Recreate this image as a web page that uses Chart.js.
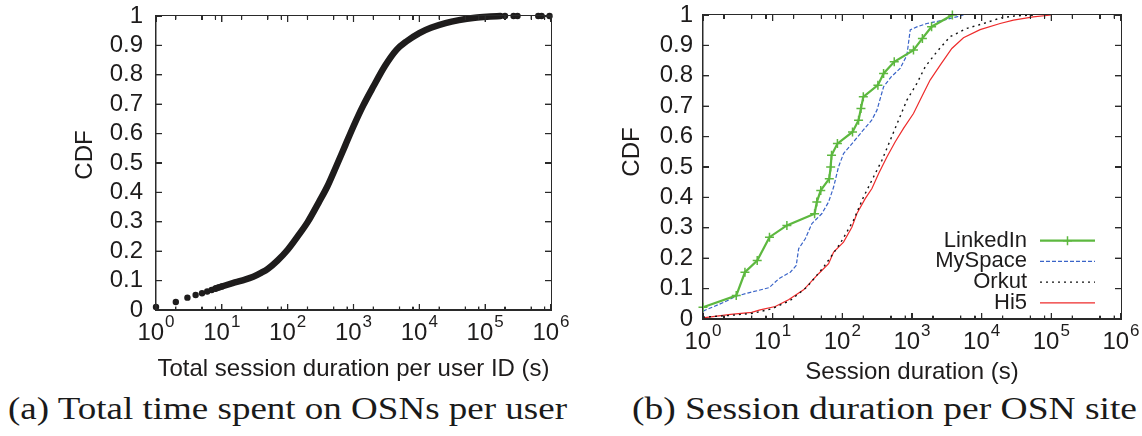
<!DOCTYPE html>
<html>
<head>
<meta charset="utf-8">
<script src="https://cdn.jsdelivr.net/npm/chart.js@4/dist/chart.umd.min.js"></script>
<style>
  html, body { margin: 0; padding: 0; background: #fff; }
  body { width: 1142px; height: 436px; position: relative; overflow: hidden; }
  canvas { position: absolute; top: 0; }
  #cA { left: 0; }
  #cB { left: 580px; }
  .overlay { position: absolute; top: 0; pointer-events: none; }
  .overlay div { position: absolute; background: #2a2a2a; }
  .overlay div.box { background: transparent; border: 1.5px solid #2a2a2a; box-sizing: border-box; }
  .cap { position: absolute; top: 392px; font-family: "Liberation Serif", "Times New Roman", serif; font-size: 32px; line-height: 32px; color: #1a1a1a; white-space: nowrap; transform-origin: 0 0; }
</style>
</head>
<body>
<canvas id="cA" width="571" height="390"></canvas>
<canvas id="cB" width="562" height="390"></canvas>
<div class="overlay" id="oA" style="left:0;width:571px;height:390px"></div>
<div class="overlay" id="oB" style="left:580px;width:562px;height:390px"></div>
<div class="cap" id="capA" data-left="8" data-width="559">(a) Total time spent on OSNs per user</div>
<div class="cap" id="capB" data-left="632" data-width="505">(b) Session duration per OSN site</div>
<script>
// ---------- data ----------
const decadeExponents = [0, 1, 2, 3, 4, 5, 6];
const minorMultipliers = [2, 5, 8];
const yTickValues = [0, 0.1, 0.2, 0.3, 0.4, 0.5, 0.6, 0.7, 0.8, 0.9, 1];

// (a) total session duration per user ID
const userDotX = [1, 2, 3, 4, 5, 6, 7, 8, 9, 10, 200000, 270000, 310000, 640000, 720000, 950000];
const userDotY = [0.010, 0.027, 0.042, 0.051, 0.057, 0.063, 0.068, 0.073, 0.077, 0.080, 1, 1, 1, 1, 1, 1];
const userCurveX = [8, 10, 15, 20, 30, 40, 50, 70, 100, 150, 200, 300, 400, 550, 750, 1000, 1400, 2000, 3000, 4500, 6500, 10000, 15000, 25000, 40000, 70000, 120000, 170000];
const userCurveY = [0.073, 0.080, 0.092, 0.100, 0.113, 0.127, 0.140, 0.168, 0.205, 0.258, 0.298, 0.368, 0.420, 0.490, 0.560, 0.625, 0.695, 0.760, 0.830, 0.885, 0.915, 0.942, 0.960, 0.976, 0.986, 0.994, 0.998, 1.0];

// (b) session duration per OSN site
const linkedinX = [1, 3, 4, 6, 9, 16, 40, 43, 49, 65, 68, 70, 85, 140, 171, 185, 200, 324, 391, 556, 1050, 1410, 1910, 3800];
const linkedinY = [0.0385, 0.0769, 0.1538, 0.1923, 0.2692, 0.3077, 0.3462, 0.3846, 0.4231, 0.4615, 0.5, 0.5385, 0.5769, 0.6154, 0.6538, 0.6923, 0.7308, 0.7692, 0.8077, 0.8462, 0.8846, 0.9231, 0.9615, 1.0];
const myspaceX = [1, 2, 3, 4.5, 8.9, 12.2, 17.9, 21.8, 23.6, 29.4, 36.6, 51, 63.5, 75, 88, 104, 145, 191, 264, 314, 391, 505, 675, 845, 943, 1175, 1630, 2830, 4370, 5480];
const myspaceY = [0.026, 0.055, 0.075, 0.086, 0.103, 0.132, 0.154, 0.176, 0.231, 0.264, 0.314, 0.347, 0.385, 0.434, 0.5, 0.544, 0.583, 0.616, 0.654, 0.687, 0.764, 0.797, 0.824, 0.868, 0.951, 0.961, 0.972, 0.983, 0.994, 1.0];
const orkutX = [1, 2.5, 5.3, 9.8, 17.9, 31, 54, 93, 145, 201, 280, 370, 487, 641, 845, 1175, 1550, 2275, 3530, 6150, 10600, 18400, 30000, 60000];
const orkutY = [0.006, 0.012, 0.019, 0.034, 0.061, 0.105, 0.171, 0.248, 0.325, 0.401, 0.467, 0.522, 0.588, 0.654, 0.72, 0.775, 0.83, 0.879, 0.929, 0.956, 0.972, 0.99, 0.997, 1.0];
const hi5X = [1, 2.5, 5, 6.6, 10.9, 16.9, 27.8, 45.6, 63.5, 75, 104, 137, 162, 213, 266, 331, 436, 575, 755, 1050, 1380, 1820, 2540, 3730, 5480, 9500, 18400, 28600, 55000, 100000];
const hi5Y = [0.004, 0.015, 0.022, 0.030, 0.041, 0.063, 0.096, 0.149, 0.182, 0.22, 0.253, 0.302, 0.347, 0.396, 0.429, 0.478, 0.533, 0.583, 0.627, 0.676, 0.731, 0.786, 0.835, 0.89, 0.925, 0.952, 0.972, 0.983, 0.994, 1.0];

const seriesNames = ['LinkedIn', 'MySpace', 'Orkut', 'Hi5'];

// ---------- helpers ----------
const SANS = '"Liberation Sans", Arial, Helvetica, sans-serif';
const INK = '#1e1c1c';
const FRAME = '#2a2a2a';
const pts = (xs, ys) => xs.map((x, i) => ({ x, y: ys[i] }));
Chart.defaults.font.family = SANS;
Chart.defaults.color = INK;

// tick positions come from the chart's own scales
function tickMarks(chart) {
  const a = chart.chartArea, sx = chart.scales.x, sy = chart.scales.y;
  const marks = [];
  for (const v of yTickValues) {
    const py = sy.getPixelForValue(v);
    marks.push({ x: a.left, y: py - 0.6, w: 6, h: 1.2 });
    marks.push({ x: a.right - 6, y: py - 0.6, w: 6, h: 1.2 });
  }
  decadeExponents.forEach((e, k) => {
    const base = Math.pow(10, e);
    const px = sx.getPixelForValue(base);
    marks.push({ x: px - 0.6, y: a.bottom - 6, w: 1.2, h: 6 });
    marks.push({ x: px - 0.6, y: a.top, w: 1.2, h: 6 });
    if (k < decadeExponents.length - 1) {
      for (const m of minorMultipliers) {
        const qx = sx.getPixelForValue(base * m);
        marks.push({ x: qx - 0.6, y: a.bottom - 3.5, w: 1.2, h: 3.5 });
        marks.push({ x: qx - 0.6, y: a.top, w: 1.2, h: 3.5 });
      }
    }
  });
  return marks;
}

function makeGnuPlugin(cfg) {
  function drawTicks(chart) {
    const ctx = chart.ctx;
    ctx.save();
    ctx.fillStyle = FRAME;
    for (const m of tickMarks(chart)) ctx.fillRect(m.x, m.y, m.w, m.h);
    ctx.restore();
  }
  function drawLabels(chart) {
    const ctx = chart.ctx, a = chart.chartArea, sx = chart.scales.x;
    ctx.save();
    ctx.fillStyle = INK;
    ctx.textBaseline = 'middle';
    ctx.textAlign = 'left';
    const big = '24px ' + SANS, small = '17px ' + SANS;
    for (const e of decadeExponents) {
      const px = sx.getPixelForValue(Math.pow(10, e));
      ctx.font = big; const w1 = ctx.measureText('10').width;
      ctx.font = small; const w2 = ctx.measureText(String(e)).width;
      const start = px - (w1 + w2 + 1) / 2;
      ctx.font = big; ctx.fillText('10', start, a.bottom + 23);
      ctx.font = small; ctx.fillText(String(e), start + w1 + 1, a.bottom + 12);
    }
    ctx.font = '24px ' + SANS;
    ctx.textAlign = 'center';
    ctx.translate(cfg.yTitleX, cfg.yTitleY);
    ctx.rotate(-Math.PI / 2);
    ctx.fillText('CDF', 0, 0);
    ctx.restore();
  }
  function drawLegend(chart) {
    const lg = cfg.legend;
    if (!lg) return;
    const ctx = chart.ctx;
    ctx.save();
    ctx.font = '22px ' + SANS;
    ctx.textBaseline = 'middle';
    ctx.textAlign = 'right';
    chart.data.datasets.forEach((ds, i) => {
      const yy = lg.y0 + i * lg.step;
      ctx.fillStyle = INK;
      ctx.fillText(ds.label, lg.textRight, yy);
      ctx.strokeStyle = ds.borderColor;
      ctx.lineWidth = ds.borderWidth;
      ctx.setLineDash(ds.borderDash || []);
      ctx.beginPath();
      ctx.moveTo(lg.lineX0, yy); ctx.lineTo(lg.lineX1, yy);
      ctx.stroke();
      ctx.setLineDash([]);
      if (ds.pointStyle === 'cross' && ds.pointRadius > 0) {
        const cx = (lg.lineX0 + lg.lineX1) / 2, r = ds.pointRadius;
        ctx.lineWidth = ds.pointBorderWidth;
        ctx.beginPath();
        ctx.moveTo(cx - r, yy); ctx.lineTo(cx + r, yy);
        ctx.moveTo(cx, yy - r); ctx.lineTo(cx, yy + r);
        ctx.stroke();
      }
    });
    ctx.restore();
  }
  return {
    id: 'gnu_' + cfg.name,
    afterDraw(chart) {
      drawLegend(chart);
      drawLabels(chart);
      drawTicks(chart);
    }
  };
}

// HTML overlay frame + inward ticks, positioned from the chart's computed area/scales
function buildOverlay(chart, overlayId) {
  const host = document.getElementById(overlayId);
  host.innerHTML = '';
  const a = chart.chartArea;
  const box = document.createElement('div');
  box.className = 'box';
  Object.assign(box.style, { left: (a.left - 0.75) + 'px', top: (a.top - 0.75) + 'px', width: (a.right - a.left + 1.5) + 'px', height: (a.bottom - a.top + 1.5) + 'px' });
  host.appendChild(box);
  for (const m of tickMarks(chart)) {
    const d = document.createElement('div');
    Object.assign(d.style, { left: m.x + 'px', top: m.y + 'px', width: m.w + 'px', height: m.h + 'px' });
    host.appendChild(d);
  }
}

function makeOptions(cfg) {
  const edge = { display: true, color: FRAME, width: 1.5 };
  return {
    responsive: false,
    animation: false,
    events: [],
    layout: { padding: { left: 0, top: cfg.top, right: cfg.right, bottom: 0 } },
    plugins: { legend: { display: false }, tooltip: { enabled: false } },
    scales: {
      x: {
        type: 'logarithmic', min: 1, max: 1000000, position: 'bottom',
        grid: { display: false, drawTicks: false },
        border: edge,
        ticks: { display: false },
        title: { display: true, text: cfg.xTitle, font: { size: 24 }, color: INK, padding: { top: 0, bottom: cfg.xTitlePad } },
        afterFit: (s) => { s.height = cfg.xHeight; s.paddingLeft = 0; s.paddingRight = 0; }
      },
      y: {
        type: 'linear', min: 0, max: 1, position: 'left',
        grid: { display: false, drawTicks: false },
        border: edge,
        afterBuildTicks: (s) => { s.ticks = yTickValues.map(v => ({ value: v })); },
        ticks: { autoSkip: false, padding: cfg.yPad, font: { size: 24 }, color: INK, callback: (v) => String(Math.round(v * 10) / 10) },
        afterFit: (s) => { s.width = cfg.yWidth; s.paddingTop = 0; s.paddingBottom = 0; }
      }
    }
  };
}

// ---------- chart (a) ----------
const cfgA = { name: 'a', top: 16, right: 20, xHeight: 80, yWidth: 156, yPad: 13, xTitle: 'Total session duration per user ID (s)',
  xTitlePad: 6.6, yTitleX: 85, yTitleY: 155 };
const chartA = new Chart(document.getElementById('cA'), {
  type: 'scatter',
  data: {
    datasets: [
      { label: 'users curve', data: pts(userCurveX, userCurveY), showLine: true, borderColor: INK, borderWidth: 6.5,
        borderCapStyle: 'round', borderJoinStyle: 'round', cubicInterpolationMode: 'monotone', pointRadius: 0, clip: false },
      { label: 'users', data: pts(userDotX, userDotY), showLine: false, pointRadius: 3.2, pointBackgroundColor: INK,
        pointBorderWidth: 0, clip: false }
    ]
  },
  options: makeOptions(cfgA),
  plugins: [makeGnuPlugin(cfgA)]
});

// ---------- chart (b) ----------
const cfgB = { name: 'b', top: 15, right: 21, xHeight: 71, yWidth: 123, yPad: 10, xTitle: 'Session duration (s)',
  xTitlePad: 3.6, yTitleX: 52, yTitleY: 152,
  legend: { y0: 240.7, step: 20.7, textRight: 447, lineX0: 460, lineX1: 515 } };
const chartB = new Chart(document.getElementById('cB'), {
  type: 'scatter',
  data: {
    datasets: [
      { label: seriesNames[0], data: pts(linkedinX, linkedinY), showLine: true, borderColor: '#5db83f', borderWidth: 2.2,
        pointStyle: 'cross', pointRadius: 4.5, pointBorderWidth: 1.5, pointBorderColor: '#5db83f', clip: false },
      { label: seriesNames[1], data: pts(myspaceX, myspaceY), showLine: true, borderColor: '#3a64c8', borderWidth: 1.2,
        borderDash: [4, 2], pointRadius: 0, clip: false },
      { label: seriesNames[2], data: pts(orkutX, orkutY), showLine: true, borderColor: '#111', borderWidth: 1.4,
        borderDash: [2, 4], pointRadius: 0, clip: false },
      { label: seriesNames[3], data: pts(hi5X, hi5Y), showLine: true, borderColor: '#ee2b2b', borderWidth: 1.2,
        pointRadius: 0, clip: false }
    ]
  },
  options: makeOptions(cfgB),
  plugins: [makeGnuPlugin(cfgB)]
});

buildOverlay(chartA, 'oA');
buildOverlay(chartB, 'oB');

// ---------- captions ----------
for (const id of ['capA', 'capB']) {
  const el = document.getElementById(id);
  el.style.left = el.dataset.left + 'px';
  const w = el.getBoundingClientRect().width;
  el.style.transform = 'scaleX(' + (Number(el.dataset.width) / w) + ')';
}
</script>
</body>
</html>
